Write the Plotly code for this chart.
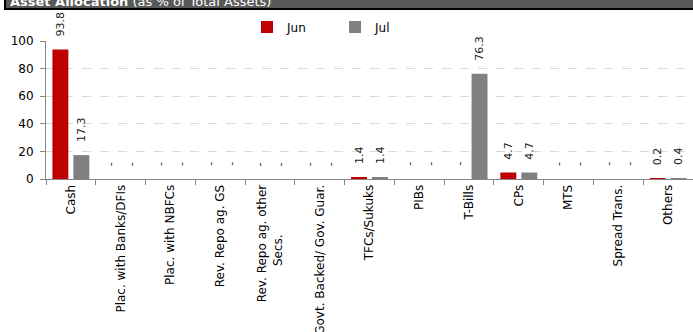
import plotly.graph_objects as go

# Asset allocation by category, as % of total assets
categories = ["Cash", "Plac. with Banks/DFIs", "Plac. with NBFCs", "Rev. Repo ag. GS",
              "Rev. Repo ag. other Secs.", "Govt. Backed/ Gov. Guar.", "TFCs/Sukuks", "PIBs",
              "T-Bills", "CPs", "MTS", "Spread Trans.", "Others"]
jun = [93.8, 0, 0, 0, 0, 0, 1.4, 0, 0, 4.7, 0, 0, 0.2]
jul = [17.3, 0, 0, 0, 0, 0, 1.4, 0, 76.3, 4.7, 0, 0, 0.4]
series_names = ["Jun", "Jul"]
series_colors = ["#C00000", "#808080"]
y_ticks = [0, 20, 40, 60, 80, 100]

W, H = 693, 332
L, R, T, B = 46, 0, 41, 153
BARGAP = 0.157
FONT = "DejaVu Sans"


def tick_label(name):
    # wrap the long repo label onto two lines, second line centred under the first
    if name == "Rev. Repo ag. other Secs.":
        return "Rev. Repo ag. other<br>Secs." + "\u00a0" * 13
    return name


def value_label(v):
    return "-" if v == 0 else f"{v:.1f}"


fig = go.Figure()
for name, vals, col in zip(series_names, [jun, jul], series_colors):
    fig.add_trace(go.Bar(x=categories, y=vals, name=name, marker_color=col,
                         marker_line_width=0))

# rotated value labels above each bar
slot = (1 - BARGAP) / len(series_names)
annotations = []
for s, vals in enumerate([jun, jul]):
    off = (s - (len(series_names) - 1) / 2) * slot
    for i, v in enumerate(vals):
        annotations.append(dict(x=i + off, y=v, xref="x", yref="y", text=value_label(v),
                                showarrow=False, textangle=-90, yanchor="bottom",
                                xanchor="center", yshift=11,
                                font=dict(family=FONT, size=11, color="#1a1a1a")))

# header band text
annotations.append(dict(xref="paper", yref="paper", x=(8 - L) / (W - L - R), y=1,
                        xanchor="left", yanchor="middle", yshift=T - 1, showarrow=False,
                        text="<b>Asset Allocation</b> (as % of Total Assets)",
                        font=dict(family=FONT, size=13, color="white")))

plot_w = W - L - R
plot_h = H - T - B
fig.add_shape(type="rect", xref="paper", yref="paper",
              x0=(5 - L) / plot_w, x1=(W + 10 - L) / plot_w,
              y0=1 + (T - 9) / plot_h, y1=1 + (T + 10) / plot_h,
              fillcolor="#595959", line=dict(color="black", width=2), layer="above")

fig.update_layout(
    width=W, height=H,
    margin=dict(l=L, r=R, t=T, b=B, pad=0),
    paper_bgcolor="white", plot_bgcolor="white",
    barmode="group", bargap=BARGAP, bargroupgap=0.24,
    font=dict(family=FONT, size=11, color="black"),
    annotations=annotations,
    showlegend=True,
    legend=dict(orientation="h", x=(247 - L) / plot_w, xanchor="left",
                y=1 + 14 / plot_h, yanchor="middle", entrywidth=43,
                font=dict(family=FONT, size=12, color="black"),
                bgcolor="rgba(0,0,0,0)", borderwidth=0),
    xaxis=dict(type="category", tickmode="array", tickvals=categories,
               ticktext=[tick_label(c) for c in categories], tickangle=-90,
               tickson="boundaries", ticks="outside", ticklen=5, tickcolor="#868686",
               showline=True, linecolor="#868686", linewidth=1, showgrid=False,
               automargin=False,
               tickfont=dict(family=FONT, size=12, color="black"),
               range=[-0.5, len(categories) - 0.5]),
    yaxis=dict(range=[0, 100], tickvals=y_ticks, ticks="outside", ticklen=5,
               tickcolor="#868686", showline=True, linecolor="#868686", linewidth=1,
               showgrid=True, gridcolor="#D9D9D9", griddash="dash", gridwidth=1,
               zeroline=False, ticklabelstandoff=4, automargin=False,
               tickfont=dict(family=FONT, size=12, color="black")),
)

fig.write_html("out.html")
